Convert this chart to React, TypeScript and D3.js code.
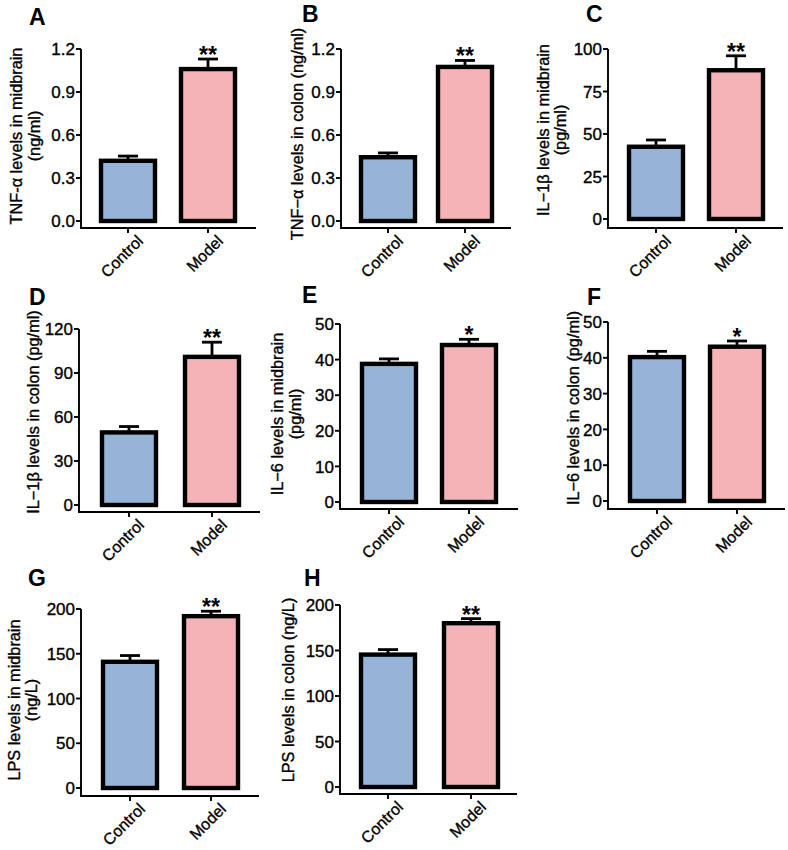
import React from "react";
import * as d3 from "d3";

// Eight two-group comparisons (mean ± SEM), Control vs Model
const panelIds = ["A", "B", "C", "D", "E", "F", "G", "H"];
const groups = ["Control", "Model"];

const yLabelLines: string[][] = [
  ["TNF-α levels in midbrain", "(ng/ml)"],
  ["TNF−α levels in colon (ng/ml)"],
  ["IL−1β levels in midbrain", "(pg/ml)"],
  ["IL−1β levels in colon (pg/ml)"],
  ["IL−6 levels in midbrain", "(pg/ml)"],
  ["IL−6 levels in colon (pg/ml)"],
  ["LPS levels in midbrain", "(ng/L)"],
  ["LPS levels in colon (ng/L)"],
];

const controlMean = [0.42, 0.445, 42.5, 49.5, 38.8, 40.2, 141, 145.5];
const controlSem = [0.033, 0.03, 4, 4, 1.4, 1.6, 7, 5.5];
const modelMean = [1.06, 1.075, 87.5, 101, 44.1, 43.1, 192, 180];
const modelSem = [0.07, 0.045, 8.5, 10, 1.6, 1.6, 5.5, 5];
const significance = ["**", "**", "**", "**", "*", "*", "**", "**"];

const yMax = [1.2, 1.2, 100, 120, 50, 50, 200, 200];
const yTicks: number[][] = [
  [0, 0.3, 0.6, 0.9, 1.2],
  [0, 0.3, 0.6, 0.9, 1.2],
  [0, 25, 50, 75, 100],
  [0, 30, 60, 90, 120],
  [0, 10, 20, 30, 40, 50],
  [0, 10, 20, 30, 40, 50],
  [0, 50, 100, 150, 200],
  [0, 50, 100, 150, 200],
];
const tickFormats = [".1f", ".1f", "d", "d", "d", "d", "d", "d"];

// Panel geometry in page pixels
type Layout = {
  axisX: number; top: number; zero: number; axisY: number; xEnd: number;
  cx: [number, number]; labelX: number[]; labelY: number;
  letterX: number; letterY: number;
};
const layouts: Layout[] = [
  { axisX: 81, top: 49, zero: 221, axisY: 228, xEnd: 256, cx: [128, 208], labelX: [16, 34], labelY: 136, letterX: 29, letterY: 25 },
  { axisX: 341, top: 49, zero: 221, axisY: 228, xEnd: 511, cx: [388, 465], labelX: [297], labelY: 134, letterX: 302, letterY: 22 },
  { axisX: 608, top: 49, zero: 219, axisY: 228, xEnd: 783, cx: [656, 736], labelX: [543, 560], labelY: 130, letterX: 586, letterY: 22 },
  { axisX: 79, top: 329, zero: 505, axisY: 512, xEnd: 260, cx: [129, 212], labelX: [33], labelY: 412, letterX: 29, letterY: 305 },
  { axisX: 340, top: 324, zero: 502, axisY: 509, xEnd: 518, cx: [389, 469], labelX: [277, 295], labelY: 414, letterX: 302, letterY: 303 },
  { axisX: 608, top: 322, zero: 501, axisY: 509, xEnd: 785, cx: [657, 737], labelX: [573], labelY: 408, letterX: 587, letterY: 305 },
  { axisX: 81, top: 609, zero: 788, axisY: 796, xEnd: 259, cx: [130, 211], labelX: [14, 31], labelY: 700, letterX: 28, letterY: 586 },
  { axisX: 340, top: 605, zero: 787, axisY: 794, xEnd: 517, cx: [388, 471], labelX: [288], labelY: 690, letterX: 304, letterY: 586 },
];

const fills = ["#95B4D8", "#F4B3B7"];
const FONT = "'Liberation Sans', Arial, Helvetica, sans-serif";
const BAR_W = 54;
const BAR_STROKE = 4.4;
const CAP_W = 20;
// slightly heavier regular text
const textInk = { fill: "#000", stroke: "#000", strokeWidth: 0.35 };

function Panel({ i }: { i: number }) {
  const L = layouts[i];
  const y = d3.scaleLinear().domain([0, yMax[i]]).range([L.zero, L.top]);
  const x = d3.scalePoint<string>().domain(groups).range(L.cx);
  const fmt = d3.format(tickFormats[i]);
  const means = [controlMean[i], modelMean[i]];
  const sems = [controlSem[i], modelSem[i]];
  const modelErrTop = y(modelMean[i] + modelSem[i]);

  return (
    <g>
      <text x={L.letterX} y={L.letterY} fontSize={23} fontWeight="bold" fontFamily={FONT}>
        {panelIds[i]}
      </text>

      {/* y axis title */}
      {yLabelLines[i].map((line, k) => (
        <text
          key={k}
          transform={`translate(${L.labelX[k]},${L.labelY}) rotate(-90)`}
          textAnchor="middle"
          dy="0.35em"
          fontSize={16.3}
          fontFamily={FONT}
          {...textInk}
        >
          {line}
        </text>
      ))}

      {/* bars with error bars */}
      {groups.map((g, k) => {
        const cx = x(g)!;
        const top = y(means[k]);
        const errTop = y(means[k] + sems[k]);
        return (
          <g key={g}>
            <line x1={cx} x2={cx} y1={top} y2={errTop} stroke="#000" strokeWidth={2.8} />
            <line x1={cx - CAP_W / 2} x2={cx + CAP_W / 2} y1={errTop} y2={errTop} stroke="#000" strokeWidth={2.8} />
            <rect
              x={cx - BAR_W / 2}
              y={top}
              width={BAR_W}
              height={y(0) - top}
              fill={fills[k]}
              stroke="#000"
              strokeWidth={BAR_STROKE}
            />
          </g>
        );
      })}

      <text
        x={x("Model")!}
        y={modelErrTop + 4}
        textAnchor="middle"
        fontSize={23}
        fontWeight="bold"
        fontFamily={FONT}
      >
        {significance[i]}
      </text>

      {/* axes */}
      <path
        d={`M${L.axisX},${L.top}V${L.axisY}H${L.xEnd}`}
        fill="none"
        stroke="#000"
        strokeWidth={1.9}
      />
      {yTicks[i].map((t) => (
        <g key={t}>
          <line x1={L.axisX - 5} x2={L.axisX} y1={y(t)} y2={y(t)} stroke="#000" strokeWidth={1.9} />
          <text
            x={L.axisX - 6}
            y={y(t)}
            dy="0.36em"
            textAnchor="end"
            fontSize={17}
            fontFamily={FONT}
            {...textInk}
          >
            {fmt(t)}
          </text>
        </g>
      ))}
      {groups.map((g) => (
        <g key={g}>
          <line x1={x(g)!} x2={x(g)!} y1={L.axisY} y2={L.axisY + 5} stroke="#000" strokeWidth={1.9} />
          <text
            transform={`translate(${x(g)! + 16},${L.axisY + 14}) rotate(-45)`}
            textAnchor="end"
            fontSize={16}
            fontFamily={FONT}
            {...textInk}
          >
            {g}
          </text>
        </g>
      ))}
    </g>
  );
}

export default function App() {
  return (
    <svg
      width={788}
      height={850}
      viewBox="0 0 788 850"
      style={{ position: "absolute", left: 0, top: 0, background: "#fff" }}
    >
      <rect width={788} height={850} fill="#fff" />
      {panelIds.map((_, i) => (
        <Panel key={i} i={i} />
      ))}
    </svg>
  );
}
